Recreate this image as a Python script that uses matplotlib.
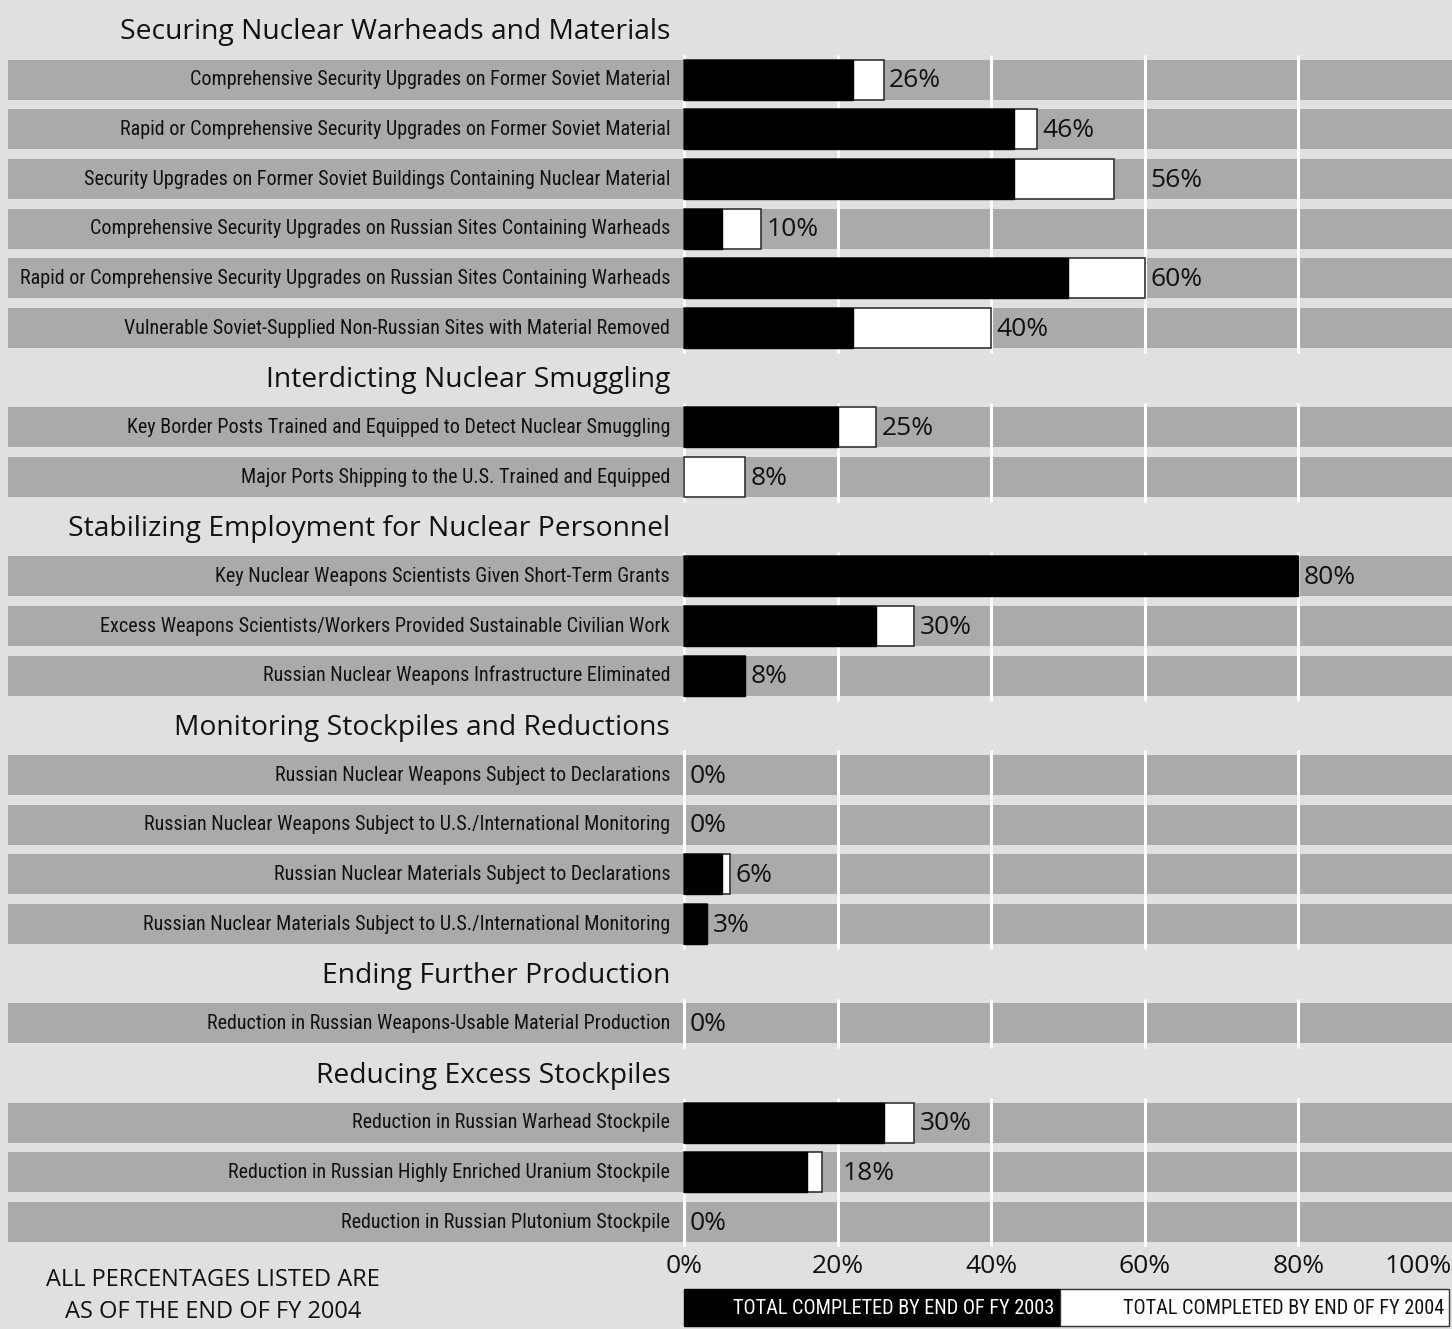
import matplotlib
matplotlib.use("Agg")
import matplotlib.pyplot as plt
from matplotlib import font_manager
from matplotlib.patches import Rectangle

# Dados do gráfico
secoes = ["Securing Nuclear Warheads and Materials",
          "Interdicting Nuclear Smuggling",
          "Stabilizing Employment for Nuclear Personnel",
          "Monitoring Stockpiles and Reductions",
          "Ending Further Production",
          "Reducing Excess Stockpiles"]
itens_por_secao = [6, 2, 3, 4, 1, 3]

rotulos = ["Comprehensive Security Upgrades on Former Soviet Material",
           "Rapid or Comprehensive Security Upgrades on Former Soviet Material",
           "Security Upgrades on Former Soviet Buildings Containing Nuclear Material",
           "Comprehensive Security Upgrades on Russian Sites Containing Warheads",
           "Rapid or Comprehensive Security Upgrades on Russian Sites Containing Warheads",
           "Vulnerable Soviet-Supplied Non-Russian Sites with Material Removed",
           "Key Border Posts Trained and Equipped to Detect Nuclear Smuggling",
           "Major Ports Shipping to the U.S. Trained and Equipped",
           "Key Nuclear Weapons Scientists Given Short-Term Grants",
           "Excess Weapons Scientists/Workers Provided Sustainable Civilian Work",
           "Russian Nuclear Weapons Infrastructure Eliminated",
           "Russian Nuclear Weapons Subject to Declarations",
           "Russian Nuclear Weapons Subject to U.S./International Monitoring",
           "Russian Nuclear Materials Subject to Declarations",
           "Russian Nuclear Materials Subject to U.S./International Monitoring",
           "Reduction in Russian Weapons-Usable Material Production",
           "Reduction in Russian Warhead Stockpile",
           "Reduction in Russian Highly Enriched Uranium Stockpile",
           "Reduction in Russian Plutonium Stockpile"]

fy2003 = [22, 43, 43, 5, 50, 22, 20, 0, 80, 25, 8, 0, 0, 5, 3, 0, 26, 16, 0]
fy2004 = [26, 46, 56, 10, 60, 40, 25, 8, 80, 30, 8, 0, 0, 6, 3, 0, 30, 18, 0]

ticks = [0, 20, 40, 60, 80, 100]

# alguns rótulos de valor ficam depois da linha de grade seguinte
empurrar_rotulo = {2: 60, 17: 20}

FUNDO = "#e0e0e0"
FAIXA = "#aaaaaa"
TEXTO = "#111111"

# procura uma fonte estreita instalada
nomes = {f.name for f in font_manager.fontManager.ttflist}
fonte_estreita = ["Roboto"]
for cand in ["Roboto Condensed", "Liberation Sans Narrow", "Open Sans Condensed",
             "Noto Sans Condensed"]:
    if cand in nomes:
        fonte_estreita = [cand]
        break
fonte = ["Open Sans", "DejaVu Sans"]

W, H = 1452, 1329
fig = plt.figure(figsize=(W / 100, H / 100), dpi=100, facecolor=FUNDO)
renderer = fig.canvas.get_renderer()


def tamanho_para_largura(texto, familia, largura_px, ref=20):
    t = fig.text(0, 0, texto, fontsize=ref, family=familia)
    w = t.get_window_extent(renderer=renderer).width
    t.remove()
    return ref * largura_px / w


tam_rotulo = tamanho_para_largura(rotulos[4], fonte_estreita, 650)
tam_legenda = tamanho_para_largura("TOTAL COMPLETED BY END OF FY 2003",
                                   fonte_estreita, 323)

# eixo ocupa toda a largura: 0% em x=684px, 100% na borda direita
passo = 7.68
y_base = 1247
ax = fig.add_axes([0, (H - y_base) / H, 1, y_base / H])
ax.set_facecolor(FUNDO)
ax.set_xlim(-684 / passo, 100)
ax.set_ylim((y_base - 30) / 49.67, -30 / 49.67)
for s in ax.spines.values():
    s.set_visible(False)

# posições das linhas
pos = 0
pos_secoes = []
pos_itens = []
for n in itens_por_secao:
    pos_secoes.append(pos)
    pos += 1
    for _ in range(n):
        pos_itens.append(pos)
        pos += 1

# faixas cinzas
ax.barh(pos_itens, [100 + 89] * len(pos_itens), left=-88, height=0.805,
        color=FAIXA, zorder=1)

# linhas de grade brancas (só nas linhas de itens)
for y in pos_itens:
    ax.vlines(ticks[:-1], y - 0.5, y + 0.5, color="white", lw=2.2, zorder=2)

# barras: total FY2004 em branco, FY2003 em preto por cima
for y, a, b in zip(pos_itens, fy2003, fy2004):
    if b > 0:
        ax.barh(y, b, height=0.805, color="white", edgecolor="#333333",
                lw=1.2, zorder=3)
    if a > 0:
        ax.barh(y, a, height=0.805, color="black", edgecolor="black",
                lw=1.0, zorder=4)

for i, y in enumerate(pos_itens):
    ax.text(-1.8, y, rotulos[i], ha="right", va="center", fontsize=tam_rotulo,
            family=fonte_estreita, color=TEXTO)
    xv = empurrar_rotulo.get(i, fy2004[i])
    ax.text(xv + 0.7, y + 0.02, f"{fy2004[i]}%", ha="left", va="center",
            fontsize=19, family=fonte, color=TEXTO, zorder=5)

for s, y in zip(secoes, pos_secoes):
    ax.text(-1.8, y + 0.05, s, ha="right", va="center", fontsize=20.3,
            family=fonte, color=TEXTO)

ax.set_yticks([])
ax.set_xticks(ticks)
ax.set_xticklabels([f"{t}%" for t in ticks], fontsize=19, family=fonte,
                   color=TEXTO)
ax.tick_params(axis="x", length=0, pad=5)
ax.get_xticklabels()[-1].set_horizontalalignment("right")

# nota de rodapé
fig.text(213 / W, 1 - 1280 / H, "ALL PERCENTAGES LISTED ARE", ha="center",
         va="center", fontsize=17, family=fonte, color=TEXTO)
fig.text(213 / W, 1 - 1312 / H, "AS OF THE END OF FY 2004", ha="center",
         va="center", fontsize=17, family=fonte, color=TEXTO)

# legenda
fig.add_artist(Rectangle((684 / W, 1 - 1326 / H), (1060 - 684) / W, 37 / H,
                         transform=fig.transFigure, facecolor="black",
                         edgecolor="black"))
fig.add_artist(Rectangle((1060 / W, 1 - 1326 / H), (1449 - 1060) / W, 37 / H,
                         transform=fig.transFigure, facecolor="white",
                         edgecolor="#333333", lw=1))
fig.text(1054 / W, 1 - 1308 / H, "TOTAL COMPLETED BY END OF FY 2003", ha="right",
         va="center", fontsize=tam_legenda, family=fonte_estreita, color="white")
fig.text(1444 / W, 1 - 1308 / H, "TOTAL COMPLETED BY END OF FY 2004", ha="right",
         va="center", fontsize=tam_legenda, family=fonte_estreita, color=TEXTO)

fig.savefig("out.png", dpi=100, facecolor=FUNDO)
